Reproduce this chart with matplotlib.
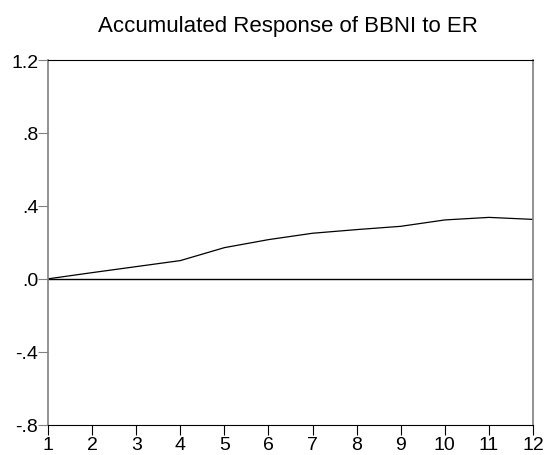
import matplotlib
matplotlib.use("Agg")
from matplotlib import pyplot as plt

# accumulated response values
periods = [1, 2, 3, 4, 5, 6, 7, 8, 9, 10, 11, 12]
response = [0.0, 0.034, 0.067, 0.100, 0.171, 0.215, 0.250, 0.270, 0.288, 0.323, 0.337, 0.326]
y_ticks = [-0.8, -0.4, 0.0, 0.4, 0.8, 1.2]
y_labels = ["-.8", "-.4", ".0", ".4", ".8", "1.2"]

plt.rcParams['font.family'] = ['Liberation Sans', 'DejaVu Sans']

fig = plt.figure(figsize=(5.57, 4.56), dpi=100)
ax = fig.add_axes([0.0862, 0.0664, 0.8707, 0.7998])

ax.plot(periods, response, color="black", linewidth=0.9)
ax.axhline(0.0, color="black", linewidth=1.0)

ax.set_xlim(1, 12)
ax.set_ylim(-0.8, 1.2)
ax.set_xticks(periods)
ax.set_xticklabels([str(p) for p in periods], fontsize=14)
ax.set_yticks(y_ticks)
ax.set_yticklabels(y_labels, fontsize=14)

ax.tick_params(axis="x", direction="out", length=7, pad=1, color="black")
ax.tick_params(axis="y", direction="out", length=7, pad=0, color="gray")

ax.spines["left"].set_color("gray")
ax.spines["right"].set_color("gray")
ax.spines["left"].set_linewidth(1.2)
ax.spines["right"].set_linewidth(1.2)
ax.spines["top"].set_color("black")
ax.spines["bottom"].set_color("black")

fig.text(0.517, 0.9298, "Accumulated Response of BBNI to ER", ha="center", va="baseline", fontsize=16)

plt.savefig("out.png", dpi=100)
